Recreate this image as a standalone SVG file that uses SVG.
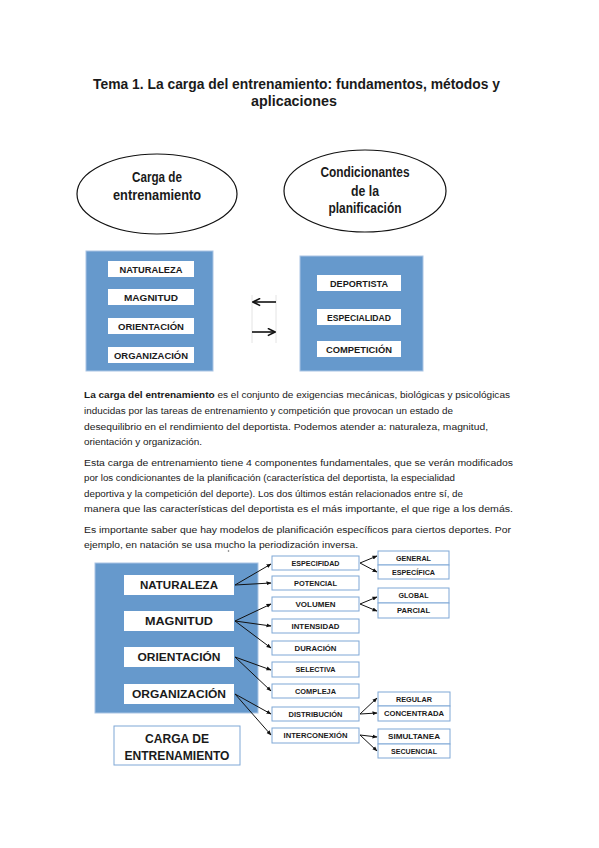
<svg xmlns="http://www.w3.org/2000/svg" width="599" height="848" viewBox="0 0 599 848">
<defs>
<style>
.t{font-family:"Liberation Sans",Arial,sans-serif;fill:#1a1a1a}
.b{font-weight:bold}
.blue{fill:#6699cc;stroke:#a9c4e4;stroke-width:1}
.wb{fill:#ffffff}
.sb{fill:#ffffff;stroke:#7fa7d6;stroke-width:1}
.ell{fill:#ffffff;stroke:#111111;stroke-width:1.2}
.lab9{font-size:9px;font-weight:bold}
.lab11{font-size:11px;font-weight:bold}
.lab7{font-size:7.5px;font-weight:bold}
.para{font-size:9.6px}
.cn{stroke:#111111;stroke-width:1;fill:none}
.cn2{stroke:#111111;stroke-width:1.6;fill:none}
</style>
<marker id="ah" viewBox="0 0 10 10" refX="9" refY="5" markerWidth="5" markerHeight="5" orient="auto" markerUnits="userSpaceOnUse">
<path d="M0,1 L10,5 L0,9 Z" fill="#111111"/>
</marker>
<marker id="ah2" viewBox="0 0 10 10" refX="9" refY="5" markerWidth="9" markerHeight="9" orient="auto" markerUnits="userSpaceOnUse">
<path d="M1,1 L9,5 L1,9" fill="none" stroke="#111111" stroke-width="1.8"/>
</marker>
</defs>
<rect width="599" height="848" fill="#ffffff"/>

<g id="title">
<text class="t b" x="93" y="89" font-size="15.5" textLength="407" lengthAdjust="spacingAndGlyphs">Tema 1. La carga del entrenamiento: fundamentos, métodos y</text>
<text class="t b" x="251" y="106" font-size="15.5" textLength="86" lengthAdjust="spacingAndGlyphs">aplicaciones</text>
</g>

<g id="ellipse-carga">
<ellipse class="ell" cx="157" cy="194" rx="80" ry="40"/>
<text class="t b" x="157" y="182" font-size="14" text-anchor="middle" textLength="50" lengthAdjust="spacingAndGlyphs">Carga de</text>
<text class="t b" x="157" y="200" font-size="14" text-anchor="middle" textLength="88" lengthAdjust="spacingAndGlyphs">entrenamiento</text>
</g>

<g id="ellipse-condicionantes">
<ellipse class="ell" cx="365" cy="191" rx="81" ry="41"/>
<text class="t b" x="365" y="177" font-size="14" text-anchor="middle" textLength="89" lengthAdjust="spacingAndGlyphs">Condicionantes</text>
<text class="t b" x="365" y="196" font-size="14" text-anchor="middle" textLength="28" lengthAdjust="spacingAndGlyphs">de la</text>
<text class="t b" x="365" y="213" font-size="14" text-anchor="middle" textLength="73" lengthAdjust="spacingAndGlyphs">planificación</text>
</g>

<g id="box-componentes">
<rect class="blue" x="86" y="251" width="127" height="120"/>
<rect class="wb" x="108" y="261" width="86" height="16"/>
<text class="t lab9" x="151" y="272.5" text-anchor="middle" textLength="63" lengthAdjust="spacingAndGlyphs">NATURALEZA</text>
<rect class="wb" x="108" y="289" width="86" height="16"/>
<text class="t lab9" x="151" y="300.5" text-anchor="middle" textLength="54" lengthAdjust="spacingAndGlyphs">MAGNITUD</text>
<rect class="wb" x="108" y="318" width="86" height="16"/>
<text class="t lab9" x="151" y="329.5" text-anchor="middle" textLength="66" lengthAdjust="spacingAndGlyphs">ORIENTACIÓN</text>
<rect class="wb" x="108" y="347" width="86" height="16"/>
<text class="t lab9" x="151" y="358.5" text-anchor="middle" textLength="74" lengthAdjust="spacingAndGlyphs">ORGANIZACIÓN</text>
</g>

<g id="box-condicionantes">
<rect class="blue" x="300" y="256" width="123" height="115"/>
<rect class="wb" x="317" y="275" width="84" height="16"/>
<text class="t lab9" x="359" y="286.5" text-anchor="middle" textLength="58" lengthAdjust="spacingAndGlyphs">DEPORTISTA</text>
<rect class="wb" x="317" y="309" width="84" height="16"/>
<text class="t lab9" x="359" y="320.5" text-anchor="middle" textLength="64" lengthAdjust="spacingAndGlyphs">ESPECIALIDAD</text>
<rect class="wb" x="317" y="341" width="84" height="16"/>
<text class="t lab9" x="359" y="352.5" text-anchor="middle" textLength="66" lengthAdjust="spacingAndGlyphs">COMPETICIÓN</text>
</g>

<g id="connectors-top">
<line x1="252" y1="295" x2="252" y2="343" stroke="#dddddd" stroke-width="0.8"/>
<line x1="276" y1="295" x2="276" y2="343" stroke="#dddddd" stroke-width="0.8"/>
<line class="cn2" x1="276" y1="302" x2="253" y2="302" marker-end="url(#ah2)"/>
<line class="cn2" x1="252" y1="332" x2="275" y2="332" marker-end="url(#ah2)"/>
</g>

<g id="paragraphs">
<text class="t para" x="84" y="398" textLength="426" lengthAdjust="spacingAndGlyphs"><tspan font-weight="bold">La carga del entrenamiento</tspan> es el conjunto de exigencias mecánicas, biológicas y psicológicas</text>
<text class="t para" x="84" y="414" textLength="369" lengthAdjust="spacingAndGlyphs">inducidas por las tareas de entrenamiento y competición que provocan un estado de</text>
<text class="t para" x="84" y="430" textLength="404" lengthAdjust="spacingAndGlyphs">desequilibrio en el rendimiento del deportista. Podemos atender a: naturaleza, magnitud,</text>
<text class="t para" x="84" y="445" textLength="118" lengthAdjust="spacingAndGlyphs">orientación y organización.</text>
<text class="t para" x="84" y="466" textLength="429" lengthAdjust="spacingAndGlyphs">Esta carga de entrenamiento tiene 4 componentes fundamentales, que se verán modificados</text>
<text class="t para" x="84" y="481" textLength="371" lengthAdjust="spacingAndGlyphs">por los condicionantes de la planificación (característica del deportista, la especialidad</text>
<text class="t para" x="84" y="497" textLength="379" lengthAdjust="spacingAndGlyphs">deportiva y la competición del deporte). Los dos últimos están relacionados entre sí, de</text>
<text class="t para" x="84" y="512" textLength="429" lengthAdjust="spacingAndGlyphs">manera que las características del deportista es el más importante, el que rige a los demás.</text>
<text class="t para" x="84" y="533" textLength="427" lengthAdjust="spacingAndGlyphs">Es importante saber que hay modelos de planificación específicos para ciertos deportes. Por</text>
<text class="t para" x="84" y="548" textLength="274" lengthAdjust="spacingAndGlyphs">ejemplo, en natación se usa mucho la periodización inversa.</text>
</g>

<circle cx="228.5" cy="551" r="0.8" fill="#666666"/>

<g id="box-carga-componentes">
<rect class="blue" x="95" y="563" width="163" height="150"/>
<rect class="wb" x="124" y="575" width="110" height="20"/>
<text class="t lab11" x="179" y="589" text-anchor="middle" textLength="78" lengthAdjust="spacingAndGlyphs">NATURALEZA</text>
<rect class="wb" x="124" y="611" width="110" height="20"/>
<text class="t lab11" x="179" y="625" text-anchor="middle" textLength="68" lengthAdjust="spacingAndGlyphs">MAGNITUD</text>
<rect class="wb" x="124" y="647" width="110" height="20"/>
<text class="t lab11" x="179" y="661" text-anchor="middle" textLength="83" lengthAdjust="spacingAndGlyphs">ORIENTACIÓN</text>
<rect class="wb" x="124" y="684" width="110" height="20"/>
<text class="t lab11" x="179" y="698" text-anchor="middle" textLength="94" lengthAdjust="spacingAndGlyphs">ORGANIZACIÓN</text>
</g>

<g id="box-carga-label">
<rect class="sb" x="114" y="726" width="126" height="39"/>
<text class="t b" x="177" y="743" font-size="12.5" text-anchor="middle" textLength="64" lengthAdjust="spacingAndGlyphs">CARGA DE</text>
<text class="t b" x="177" y="760" font-size="12.5" text-anchor="middle" textLength="105" lengthAdjust="spacingAndGlyphs">ENTRENAMIENTO</text>
</g>

<g id="mid-especifidad"><rect class="sb" x="272" y="556" width="87" height="14"/><text class="t lab7" x="315.5" y="565.8" text-anchor="middle" textLength="48" lengthAdjust="spacingAndGlyphs">ESPECIFIDAD</text></g>
<g id="mid-potencial"><rect class="sb" x="272" y="576" width="87" height="14"/><text class="t lab7" x="315.5" y="585.8" text-anchor="middle" textLength="43" lengthAdjust="spacingAndGlyphs">POTENCIAL</text></g>
<g id="mid-volumen"><rect class="sb" x="272" y="597" width="87" height="14"/><text class="t lab7" x="315.5" y="606.8" text-anchor="middle" textLength="40" lengthAdjust="spacingAndGlyphs">VOLUMEN</text></g>
<g id="mid-intensidad"><rect class="sb" x="272" y="619" width="87" height="14"/><text class="t lab7" x="315.5" y="628.8" text-anchor="middle" textLength="48" lengthAdjust="spacingAndGlyphs">INTENSIDAD</text></g>
<g id="mid-duracion"><rect class="sb" x="272" y="641" width="87" height="14"/><text class="t lab7" x="315.5" y="650.8" text-anchor="middle" textLength="42" lengthAdjust="spacingAndGlyphs">DURACIÓN</text></g>
<g id="mid-selectiva"><rect class="sb" x="272" y="662" width="87" height="15"/><text class="t lab7" x="315.5" y="672.3" text-anchor="middle" textLength="40" lengthAdjust="spacingAndGlyphs">SELECTIVA</text></g>
<g id="mid-compleja"><rect class="sb" x="272" y="684" width="87" height="14"/><text class="t lab7" x="315.5" y="693.8" text-anchor="middle" textLength="41" lengthAdjust="spacingAndGlyphs">COMPLEJA</text></g>
<g id="mid-distribucion"><rect class="sb" x="272" y="707" width="87" height="14"/><text class="t lab7" x="315.5" y="716.8" text-anchor="middle" textLength="54" lengthAdjust="spacingAndGlyphs">DISTRIBUCIÓN</text></g>
<g id="mid-interconexion"><rect class="sb" x="272" y="728" width="87" height="15"/><text class="t lab7" x="315.5" y="738.3" text-anchor="middle" textLength="64" lengthAdjust="spacingAndGlyphs">INTERCONEXIÓN</text></g>

<g id="right-general"><rect class="sb" x="378" y="551" width="71" height="14"/><text class="t lab7" x="413.5" y="560.8" text-anchor="middle" textLength="35" lengthAdjust="spacingAndGlyphs">GENERAL</text></g>
<g id="right-especifica"><rect class="sb" x="378" y="565" width="71" height="14"/><text class="t lab7" x="413.5" y="574.8" text-anchor="middle" textLength="43" lengthAdjust="spacingAndGlyphs">ESPECÍFICA</text></g>
<g id="right-global"><rect class="sb" x="378" y="588" width="71" height="15"/><text class="t lab7" x="413.5" y="598.3" text-anchor="middle" textLength="30" lengthAdjust="spacingAndGlyphs">GLOBAL</text></g>
<g id="right-parcial"><rect class="sb" x="378" y="603" width="71" height="15"/><text class="t lab7" x="413.5" y="613.3" text-anchor="middle" textLength="33" lengthAdjust="spacingAndGlyphs">PARCIAL</text></g>
<g id="right-regular"><rect class="sb" x="378" y="692" width="72" height="14"/><text class="t lab7" x="414" y="701.8" text-anchor="middle" textLength="36" lengthAdjust="spacingAndGlyphs">REGULAR</text></g>
<g id="right-concentrada"><rect class="sb" x="378" y="706" width="72" height="15"/><text class="t lab7" x="414" y="716.3" text-anchor="middle" textLength="60" lengthAdjust="spacingAndGlyphs">CONCENTRADA</text></g>
<g id="right-simultanea"><rect class="sb" x="378" y="729" width="72" height="15"/><text class="t lab7" x="414" y="739.3" text-anchor="middle" textLength="52" lengthAdjust="spacingAndGlyphs">SIMULTANEA</text></g>
<g id="right-secuencial"><rect class="sb" x="378" y="744" width="72" height="14"/><text class="t lab7" x="414" y="753.8" text-anchor="middle" textLength="46" lengthAdjust="spacingAndGlyphs">SECUENCIAL</text></g>

<g id="connectors">
<path class="cn" d="M235,585 L271,564" marker-end="url(#ah)"/>
<path class="cn" d="M235,585 L271,583" marker-end="url(#ah)"/>
<path class="cn" d="M235,621 L271,604" marker-end="url(#ah)"/>
<path class="cn" d="M235,621 L271,626" marker-end="url(#ah)"/>
<path class="cn" d="M235,621 L271,648" marker-end="url(#ah)"/>
<path class="cn" d="M235,657 L271,670" marker-end="url(#ah)"/>
<path class="cn" d="M235,657 L271,691" marker-end="url(#ah)"/>
<path class="cn" d="M235,694 L271,714" marker-end="url(#ah)"/>
<path class="cn" d="M235,694 L271,735" marker-end="url(#ah)"/>
<path class="cn" d="M360,563 L377,556" marker-end="url(#ah)"/>
<path class="cn" d="M360,563 L377,572" marker-end="url(#ah)"/>
<path class="cn" d="M360,604 L377,597" marker-end="url(#ah)"/>
<path class="cn" d="M360,604 L377,611" marker-end="url(#ah)"/>
<path class="cn" d="M360,714 L377,698" marker-end="url(#ah)"/>
<path class="cn" d="M360,714 L377,713" marker-end="url(#ah)"/>
<path class="cn" d="M360,735 L377,737" marker-end="url(#ah)"/>
<path class="cn" d="M360,735 L377,751" marker-end="url(#ah)"/>
</g>
</svg>
